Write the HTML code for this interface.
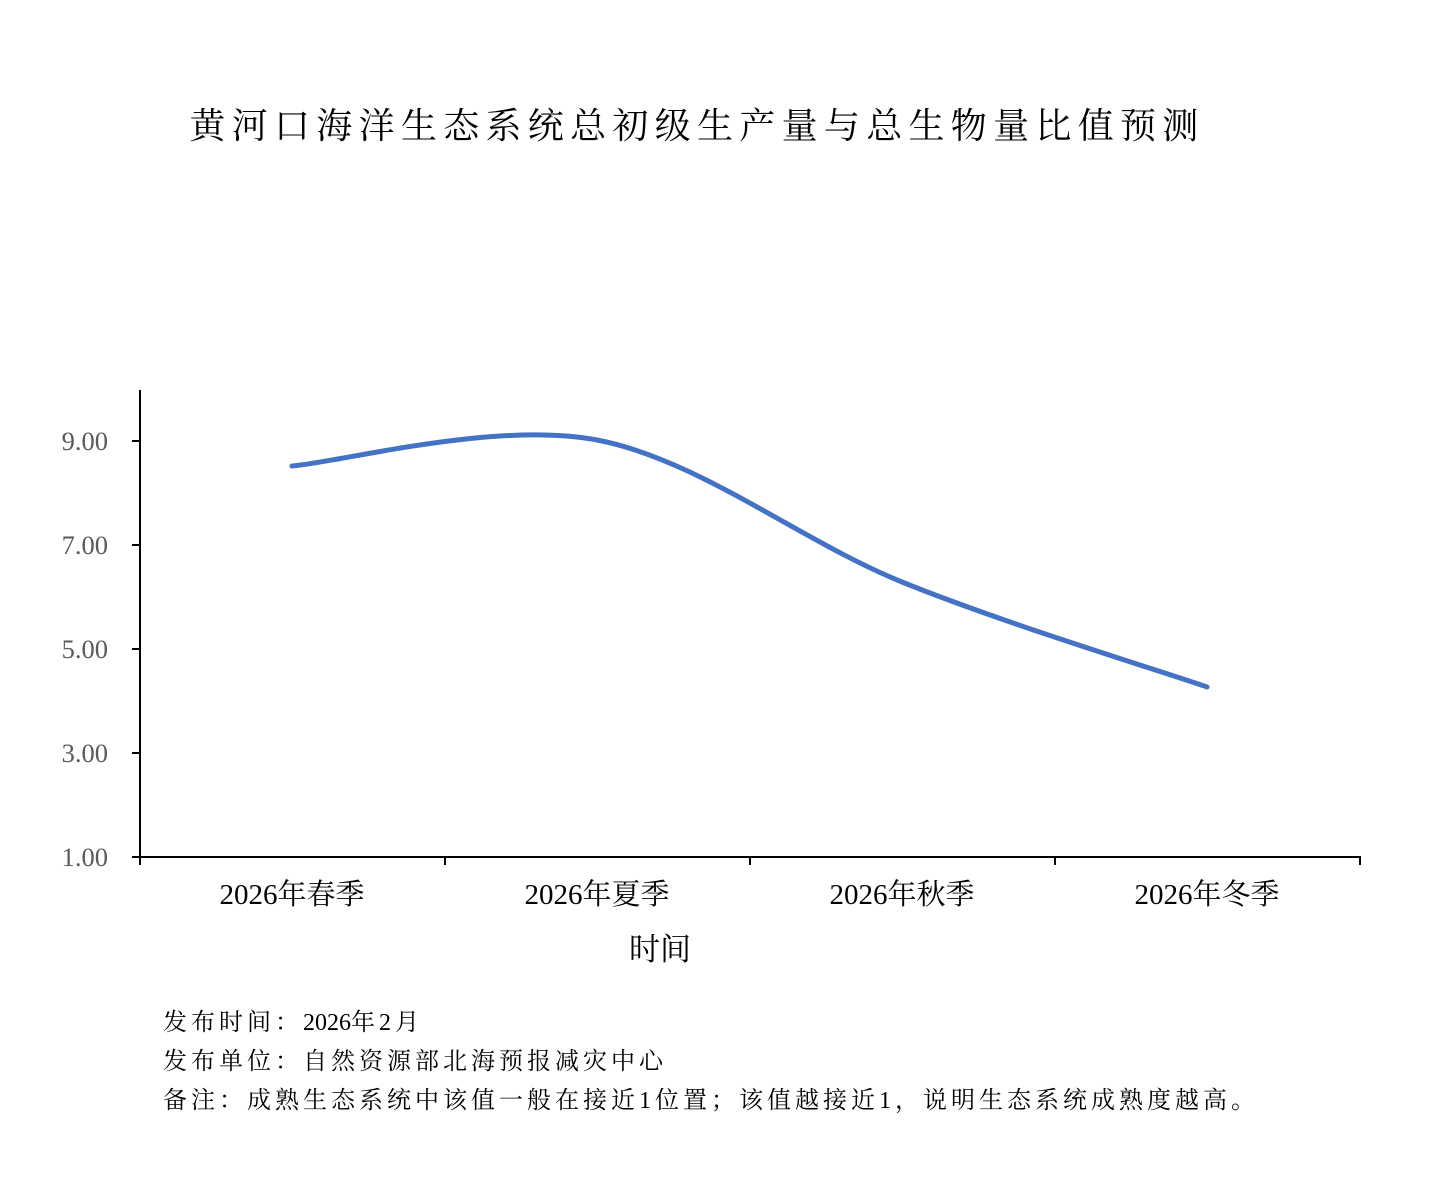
<!DOCTYPE html>
<html><head><meta charset="utf-8"><style>
body{margin:0;background:#fff;}
svg{display:block;}
</style></head><body>
<svg width="1449" height="1179" xmlns="http://www.w3.org/2000/svg">
<rect width="1449" height="1179" fill="#fff"/>
<text x="697" y="138" text-anchor="middle" font-family="'Liberation Serif','Noto Serif CJK SC',serif" font-size="36" letter-spacing="6.3" fill="#000">黄河口海洋生态系统总初级生产量与总生物量比值预测</text>
<g stroke="#000" stroke-width="2" fill="none">
<line x1="140" y1="390" x2="140" y2="857"/>
<line x1="139" y1="857" x2="1361" y2="857"/>
<line x1="132" y1="441" x2="140" y2="441"/>
<line x1="132" y1="545" x2="140" y2="545"/>
<line x1="132" y1="649" x2="140" y2="649"/>
<line x1="132" y1="753" x2="140" y2="753"/>
<line x1="132" y1="857" x2="140" y2="857"/>
<line x1="140" y1="857" x2="140" y2="865"/>
<line x1="445" y1="857" x2="445" y2="865"/>
<line x1="750" y1="857" x2="750" y2="865"/>
<line x1="1055" y1="857" x2="1055" y2="865"/>
<line x1="1360" y1="857" x2="1360" y2="865"/>
</g>
<g font-family="'Liberation Serif',serif" font-size="26.5" fill="#595959" text-anchor="end">
<text x="108" y="450">9.00</text>
<text x="108" y="554">7.00</text>
<text x="108" y="658">5.00</text>
<text x="108" y="762">3.00</text>
<text x="108" y="866">1.00</text>
</g>
<g font-family="'Liberation Serif','Noto Serif CJK SC',serif" font-size="29" fill="#000" text-anchor="middle">
<text x="292" y="904">2026年春季</text>
<text x="597" y="904">2026年夏季</text>
<text x="902" y="904">2026年秋季</text>
<text x="1207" y="904">2026年冬季</text>
<text x="660" y="960" font-size="31">时间</text>
</g>
<path d="M292,466 C342.8,461.7 495.3,420.7 597,440 C698.7,459.3 800.3,540.8 902,582 C1003.7,623.2 1156.2,669.5 1207,687" stroke="#4472C4" stroke-width="5" fill="none" stroke-linecap="round"/>
<g font-family="'Liberation Serif','Noto Serif CJK SC',serif" font-size="24" fill="#000" letter-spacing="4">
<text x="163" y="1030">发布时间：<tspan letter-spacing="0">2026</tspan>年2月</text>
<text x="163" y="1069">发布单位：自然资源部北海预报减灾中心</text>
<text x="163" y="1108">备注：成熟生态系统中该值一般在接近1位置；该值越接近1，说明生态系统成熟度越高。</text>
</g>
</svg>
</body></html>
